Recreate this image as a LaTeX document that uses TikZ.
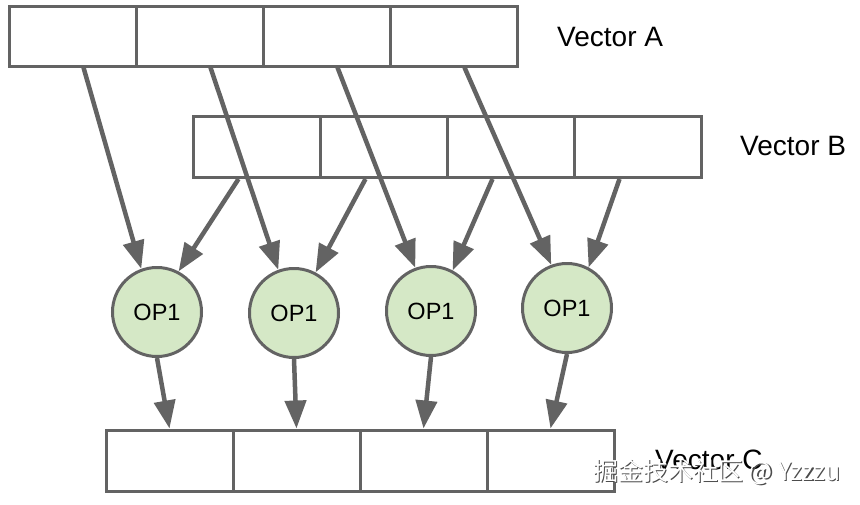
\documentclass[tikz,border=0pt]{standalone}
\usepackage{fontspec}
\setmainfont{Liberation Sans}
\newfontfamily\cjk{Noto Sans CJK SC}
\usetikzlibrary{arrows.meta,calc}
\definecolor{lgray}{HTML}{636363}
\definecolor{opgreen}{HTML}{D5E8C6}
\tikzset{
  cellbox/.style={draw=lgray, line width=3pt, fill=white, minimum width=127pt, minimum height=60pt, inner sep=0pt},
  opnode/.style={circle, draw=lgray, line width=3pt, fill=opgreen, minimum size=89pt, inner sep=0pt, font=\fontsize{23.5}{26}\selectfont},
  flow/.style={draw=lgray, line width=4.5pt, -{Triangle[length=28pt,width=21pt]}},
  veclabel/.style={anchor=west, inner sep=0pt, font=\fontsize{28}{32}\selectfont},
}
\begin{document}
\begin{tikzpicture}[x=1pt,y=-1pt]
\useasboundingbox (0,0) rectangle (860,504);
\fill[white] (0,0) rectangle (860,504);
% Vector A
\foreach \i/\x in {1/72.5,2/199.5,3/326.5,4/453.5}
  \node[cellbox] (a\i) at (\x,36) {};
% Vector B
\foreach \i/\x in {1/256.5,2/383.5,3/510.5,4/637.5}
  \node[cellbox, minimum height=61pt] (b\i) at (\x,147) {};
% Vector C
\foreach \i/\x in {1/169.5,2/296.5,3/423.5,4/550.5}
  \node[cellbox, minimum height=61pt] (cc\i) at (\x,460.5) {};
% labels
\node[veclabel] (la) at (557,37) {Vector A};
\node[veclabel] (lb) at (740,146) {Vector B};
\node[veclabel] (lc) at (655,460) {Vector C};
% ops
\node[opnode] (o1) at (157,312) {OP1};
\node[opnode] (o2) at (294,313) {OP1};
\node[opnode] (o3) at (431,311) {OP1};
\node[opnode] (o4) at (567,308) {OP1};
% arrows
\foreach \i in {1,2,3,4} {
  \draw[flow] ($(a\i.south)+(11,0)$) -- (o\i.110);
  \draw[flow] ($(b\i.south)+(-18,0)$) -- (o\i.62);
  \draw[flow] (o\i.south) -- (cc\i.north);
}
% watermark
\node[anchor=west, inner sep=0pt, text=black!70, font=\cjk\fontsize{25}{28}\selectfont] (wm0) at (594.2,473.2) {掘金技术社区 @ Yzzzu};
\node[anchor=west, inner sep=0pt, text=white, font=\cjk\fontsize{25}{28}\selectfont] (wm) at (593,472) {掘金技术社区 @ Yzzzu};
\end{tikzpicture}
\end{document}
